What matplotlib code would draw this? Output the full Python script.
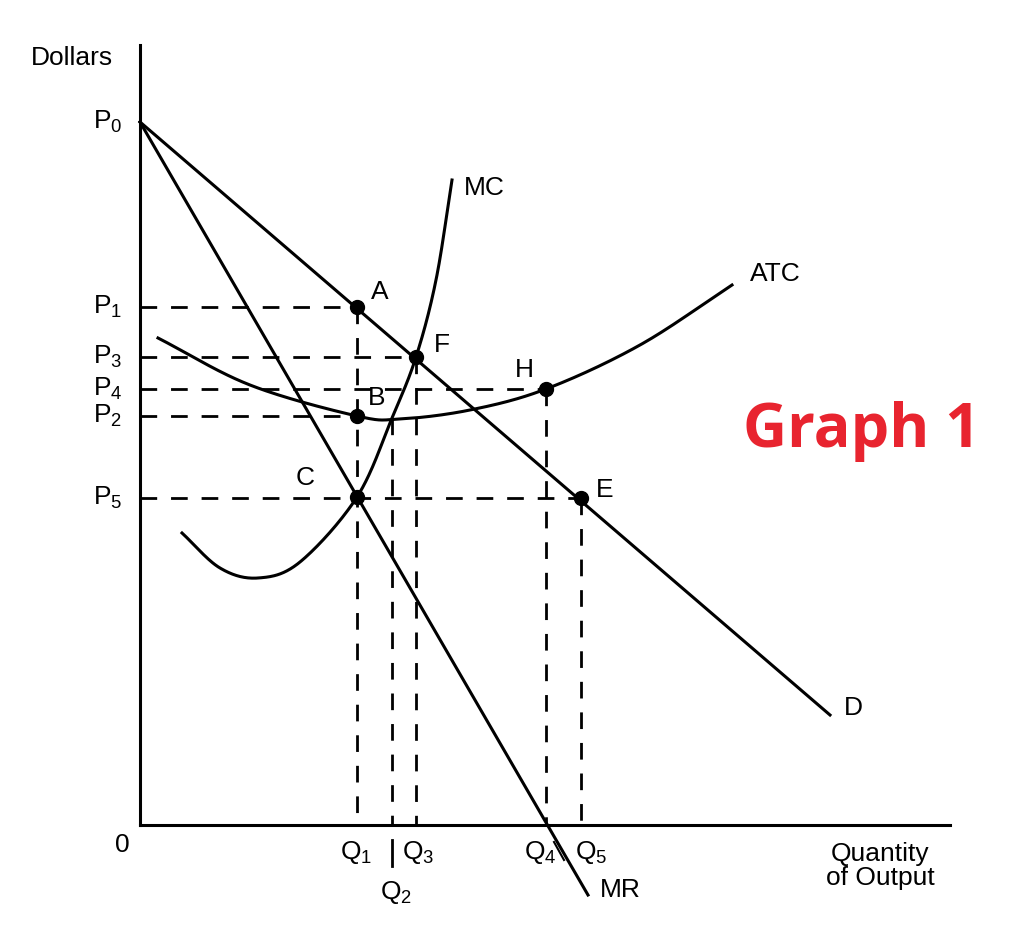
import numpy as np
import matplotlib
matplotlib.use("Agg")
import matplotlib.pyplot as plt

plt.rcParams['font.family'] = ['Liberation Sans', 'DejaVu Sans']
plt.rcParams['mathtext.fontset'] = 'custom'
plt.rcParams['mathtext.rm'] = 'Liberation Sans'

# Diagram coordinates (pixel-like units, y downward)
origin = (140, 825)
demand = [(140, 122), (830, 715)]
mr = [(140, 122), (588, 895)]
mc_pts = [(182, 533), (220, 568), (258, 578), (300, 562), (357, 497), (392, 418), (416, 357), (436, 280), (452, 180)]
atc_pts = [(158, 338), (250, 385), (357, 416), (400, 419), (470, 410), (546, 389), (640, 345), (732, 285)]
points = {'A': (357, 307), 'F': (416, 357), 'H': (546, 389), 'B': (357, 416), 'C': (357, 497), 'E': (581, 498)}
price_levels = {'P$_0$': 122, 'P$_1$': 307, 'P$_3$': 357, 'P$_4$': 389, 'P$_2$': 416, 'P$_5$': 498}
h_dash = [(307, 357), (357, 416), (389, 546), (416, 357), (498, 581)]
v_dash = [(357, 307), (392, 418), (416, 357), (546, 389), (581, 498)]

def catmull(pts, n=40):
    p = np.array(pts, float)
    p = np.vstack([2*p[0]-p[1], p, 2*p[-1]-p[-2]])
    out = []
    for i in range(1, len(p)-2):
        p0, p1, p2, p3 = p[i-1], p[i], p[i+1], p[i+2]
        t = np.linspace(0, 1, n)[:, None]
        out.append(0.5*((2*p1) + (-p0+p2)*t + (2*p0-5*p1+4*p2-p3)*t**2 + (-p0+3*p1-3*p2+p3)*t**3))
    return np.vstack(out)

fig = plt.figure(figsize=(10.36, 9.34), dpi=100)
ax = fig.add_axes([0, 0, 1, 1])
ax.set_xlim(0, 1036); ax.set_ylim(934, 0); ax.axis('off')

lw = 2.2
ax.plot([140, 140], [45, 825], color='black', lw=lw)
ax.plot([140, 950], [825, 825], color='black', lw=lw)
for seg in (demand, mr):
    ax.plot([seg[0][0], seg[1][0]], [seg[0][1], seg[1][1]], color='black', lw=lw)
for c in (mc_pts, atc_pts):
    s = catmull(c)
    ax.plot(s[:, 0], s[:, 1], color='black', lw=lw)
for y, x in h_dash:
    ax.plot([140, x], [y, y], color='black', lw=2, dashes=(6, 5))
for x, y in v_dash:
    ax.plot([x, x], [y, 825], color='black', lw=2, dashes=(6, 5))
for k, (x, y) in points.items():
    ax.plot(x, y, 'o', color='black', ms=10)

fs = 19
for lab, y in price_levels.items():
    ax.text(108, y, lab, fontsize=fs, ha='center', va='center')
ax.text(72, 58, 'Dollars', fontsize=fs, ha='center', va='center')
ax.text(122, 845, '0', fontsize=fs, ha='center', va='center')
for lab, (x, y) in {'A': (380, 292), 'F': (442, 345), 'H': (524, 370), 'B': (377, 398), 'C': (305, 478), 'E': (605, 490),
                    'MC': (484, 188), 'ATC': (775, 274), 'D': (853, 708), 'MR': (620, 890)}.items():
    ax.text(x, y, lab, fontsize=fs, ha='center', va='center')
for lab, x, y in [('Q$_1$', 356, 853), ('Q$_3$', 418, 853), ('Q$_2$', 396, 892), ('Q$_4$', 540, 853), ('Q$_5$', 591, 853)]:
    ax.text(x, y, lab, fontsize=fs, ha='center', va='center')
ax.plot([392, 392], [840, 866], color='black', lw=2)
ax.plot([554, 564], [842, 860], color='black', lw=1.5)
ax.text(880, 866, 'Quantity\nof Output', fontsize=fs, ha='center', va='center', linespacing=1.0)
ax.text(862, 432, 'Graph 1', fontsize=44, fontweight='bold', color='#e8242f', ha='center', va='center',
        family=['Open Sans', 'DejaVu Sans'])

fig.savefig('out.png', dpi=100)
